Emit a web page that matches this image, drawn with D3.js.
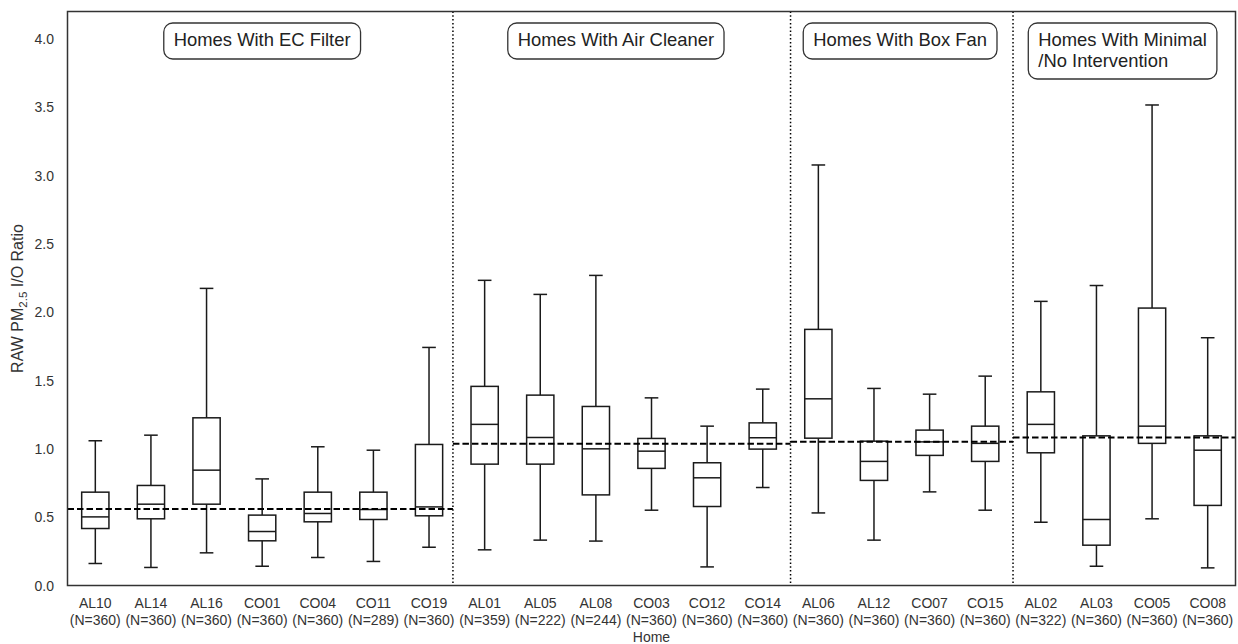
<!DOCTYPE html>
<html>
<head>
<meta charset="utf-8">
<script src="https://cdn.jsdelivr.net/npm/d3@7"></script>
<style>
  html, body { margin: 0; padding: 0; background: #fff; }
  svg { display: block; font-family: "Liberation Sans", Arial, sans-serif; }
</style>
</head>
<body>
<svg id="chart" width="1238" height="644"></svg>
<script>
// Homes, sample counts and intervention group of each home
const homes = ["AL10","AL14","AL16","CO01","CO04","CO11","CO19",
               "AL01","AL05","AL08","CO03","CO12","CO14",
               "AL06","AL12","CO07","CO15",
               "AL02","AL03","CO05","CO08"];
const sampleN = [360,360,360,360,360,289,360,
                 359,222,244,360,360,360,
                 360,360,360,360,
                 322,360,360,360];

// Box statistics of the raw PM2.5 indoor/outdoor ratio
const whiskerLow  = [0.161,0.132,0.239,0.141,0.205,0.176,0.280,
                     0.261,0.332,0.325,0.551,0.136,0.717,
                     0.531,0.332,0.685,0.551,
                     0.463,0.141,0.488,0.129];
const q1          = [0.417,0.488,0.595,0.327,0.466,0.483,0.510,
                     0.888,0.888,0.663,0.857,0.578,0.998,
                     1.078,0.769,0.952,0.908,
                     0.971,0.295,1.040,0.586];
const median      = [0.502,0.595,0.844,0.395,0.527,0.556,0.575,
                     1.179,1.083,1.000,0.983,0.788,1.081,
                     1.366,0.908,1.051,1.040,
                     1.179,0.483,1.166,0.990];
const q3          = [0.683,0.732,1.227,0.515,0.683,0.683,1.032,
                     1.457,1.393,1.310,1.076,0.898,1.190,
                     1.874,1.056,1.137,1.166,
                     1.417,1.095,2.030,1.095];
const whiskerHigh = [1.059,1.100,2.174,0.780,1.015,0.990,1.742,
                     2.233,2.130,2.269,1.373,1.166,1.437,
                     3.077,1.442,1.400,1.532,
                     2.079,2.195,3.516,1.813];

// Intervention groups: label lines, last home, group mean ratio
const groupLabels = [["Homes With EC Filter"],
                     ["Homes With Air Cleaner"],
                     ["Homes With Box Fan"],
                     ["Homes With Minimal", "/No Intervention"]];
const groupLast  = ["CO19","CO14","CO15","CO08"];
const groupMean  = [0.560, 1.037, 1.051, 1.083];

const yTicks = [0.0, 0.5, 1.0, 1.5, 2.0, 2.5, 3.0, 3.5, 4.0];

// ---- layout ----
const svg = d3.select("#chart");
const plotLeft = 67.5, plotRight = 1235.5, plotTop = 11.5, plotBottom = 585.5;
const textColor = "#333";

const x = d3.scaleBand().domain(homes).range([plotLeft, plotRight]).padding(0);
const y = d3.scaleLinear().domain([0, 4.2]).range([plotBottom, plotTop]);
const step = x.step();
const cx = h => x(h) + x.bandwidth() / 2;
const boxW = step * 0.49;
const capW = boxW / 2;

// separators between groups (fractional positions along the home axis)
const sepOffsets = [0.43, 0.5, 0.5];
const separators = groupLast.slice(0, 3).map((h, i) => cx(h) + sepOffsets[i] * step);
const groupEdges = [plotLeft, ...separators, plotRight];

// y tick labels
svg.append("g").selectAll("text").data(yTicks).join("text")
  .attr("x", 54).attr("y", d => y(d)).attr("dy", "0.36em")
  .attr("text-anchor", "end").attr("font-size", 14).attr("fill", textColor)
  .text(d => d3.format(".1f")(d));

// y axis title with subscript
const yTitle = svg.append("text")
  .attr("transform", `translate(23,${(plotTop + plotBottom) / 2}) rotate(-90)`)
  .attr("text-anchor", "middle").attr("font-size", 16).attr("fill", textColor);
yTitle.append("tspan").text("RAW PM");
yTitle.append("tspan").attr("font-size", 11.5).attr("dy", 4).text("2.5");
yTitle.append("tspan").attr("dy", -4).text(" I/O Ratio");

// x tick labels (two lines)
const xl = svg.append("g").selectAll("text").data(homes).join("text")
  .attr("text-anchor", "middle").attr("font-size", 14).attr("fill", textColor);
xl.append("tspan").attr("x", d => cx(d)).attr("y", 608).text(d => d);
xl.append("tspan").attr("x", d => cx(d)).attr("y", 625).text((d, i) => `(N=${sampleN[i]})`);

svg.append("text").attr("x", (plotLeft + plotRight) / 2).attr("y", 642)
  .attr("text-anchor", "middle").attr("font-size", 14).attr("fill", textColor)
  .text("Home");

// group separators
svg.append("g").selectAll("line").data(separators).join("line")
  .attr("x1", d => d).attr("x2", d => d).attr("y1", plotTop).attr("y2", plotBottom)
  .attr("stroke", "#000").attr("stroke-width", 1.5).attr("stroke-dasharray", "1.5,2.3");

// boxes
const boxes = svg.append("g").selectAll("g").data(homes).join("g")
  .attr("stroke", "#1a1a1a").attr("stroke-width", 1.5).attr("fill", "none");
boxes.append("line")
  .attr("x1", d => cx(d)).attr("x2", d => cx(d))
  .attr("y1", (d, i) => y(q3[i])).attr("y2", (d, i) => y(whiskerHigh[i]));
boxes.append("line")
  .attr("x1", d => cx(d)).attr("x2", d => cx(d))
  .attr("y1", (d, i) => y(q1[i])).attr("y2", (d, i) => y(whiskerLow[i]));
boxes.append("line")
  .attr("x1", d => cx(d) - capW / 2).attr("x2", d => cx(d) + capW / 2)
  .attr("y1", (d, i) => y(whiskerHigh[i])).attr("y2", (d, i) => y(whiskerHigh[i]));
boxes.append("line")
  .attr("x1", d => cx(d) - capW / 2).attr("x2", d => cx(d) + capW / 2)
  .attr("y1", (d, i) => y(whiskerLow[i])).attr("y2", (d, i) => y(whiskerLow[i]));
boxes.append("rect")
  .attr("x", d => cx(d) - boxW / 2).attr("width", boxW)
  .attr("y", (d, i) => y(q3[i])).attr("height", (d, i) => y(q1[i]) - y(q3[i]));
boxes.append("line")
  .attr("x1", d => cx(d) - boxW / 2).attr("x2", d => cx(d) + boxW / 2)
  .attr("y1", (d, i) => y(median[i])).attr("y2", (d, i) => y(median[i]));

// group mean lines
svg.append("g").selectAll("line").data(groupMean).join("line")
  .attr("x1", (d, i) => groupEdges[i]).attr("x2", (d, i) => groupEdges[i + 1])
  .attr("y1", d => y(d)).attr("y2", d => y(d))
  .attr("stroke", "#000").attr("stroke-width", 2).attr("stroke-dasharray", "6.5,3");

// group label boxes, centred at fractional positions along the home axis
const labelCenters = [cx("CO01"), cx("AL08") + 0.36 * step, cx("CO07") - 0.53 * step, cx("AL03") + 0.47 * step];
groupLabels.forEach((lines, i) => {
  const g = svg.append("g");
  const t = g.append("text").attr("font-size", 18.4).attr("fill", "#222");
  lines.forEach((ln, j) => t.append("tspan").attr("x", 0).attr("y", j * 21.7).text(ln));
  const bb = t.node().getBBox();
  const padX = 10;
  const w = bb.width + 2 * padX;
  const h = lines.length === 1 ? 36 : 56;
  const bx = labelCenters[i] - w / 2;
  const by = 23;
  t.attr("transform", `translate(${bx + padX},${by + 22.5})`);
  g.insert("rect", "text")
    .attr("x", bx).attr("y", by).attr("width", w).attr("height", h)
    .attr("rx", 9).attr("ry", 9)
    .attr("fill", "#fff").attr("stroke", "#333").attr("stroke-width", 1.3);
});

// frame
svg.append("rect")
  .attr("x", plotLeft).attr("y", plotTop).attr("width", plotRight - plotLeft).attr("height", plotBottom - plotTop)
  .attr("fill", "none").attr("stroke", "#333").attr("stroke-width", 1.5);
</script>
</body>
</html>
